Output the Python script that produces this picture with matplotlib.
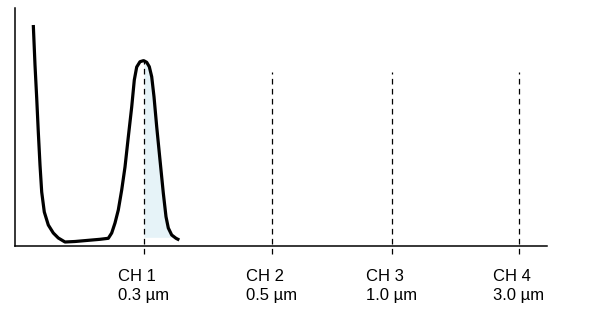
import matplotlib
matplotlib.use("Agg")
import matplotlib.pyplot as plt
import numpy as np

plt.rcParams['font.family'] = ['Liberation Sans', 'DejaVu Sans']

# Curve (size-distribution signal), x = size axis units, y = signal height
curve_x = [33.3, 35, 36.7, 38.3, 40, 41.7, 44.3, 48.3, 53.3, 58.3, 65, 75,
           100, 108.3, 111.7, 115, 118.3, 121.7, 125, 128.3, 131.7, 134.3,
           136.7, 140, 143.3, 144, 146.7, 149.3, 151.7, 154, 156.7, 160,
           163.3, 166, 168.3, 171.7, 176, 179.3]
curve_y = [221, 181, 148, 114, 81, 54, 34, 21, 13, 8, 4, 4.5,
           6.7, 7.7, 13, 23, 36, 56, 79, 109, 139, 166,
           179, 184.3, 185.3, 185.2, 183.7, 179.3, 169.3, 149.3, 119.3, 86,
           53, 29.3, 18, 11, 7.7, 6]

channels = ["CH 1", "CH 2", "CH 3", "CH 4"]
sizes = ["0.3 µm", "0.5 µm", "1.0 µm", "3.0 µm"]
channel_pos = [144, 271.5, 391.5, 519]
channel_top = [185, 174, 174, 174]
shade_start = 144
shade_base = 8.7

W, H = 616, 314
fig = plt.figure(figsize=(W / 100, H / 100), dpi=100)
ax = fig.add_axes([15 / W, (H - 246) / H, (547 - 15) / W, (246 - 8) / H])
ax.set_xlim(15, 547)
ax.set_ylim(0, 238)

cx = np.array(curve_x)
cy = np.array(curve_y)
mask = cx >= shade_start
ax.fill_between(cx[mask], shade_base, cy[mask], color='#e6f3f8', lw=0, zorder=1)

for xp, top in zip(channel_pos, channel_top):
    ax.vlines(xp, -8, top, colors='black', linewidth=0.9,
              linestyles=(0, (4.5, 3.5)), clip_on=False, zorder=2)

ax.plot(cx, cy, color='black', lw=2.3, solid_joinstyle='round',
        solid_capstyle='butt', zorder=3)

for s in ['top', 'right']:
    ax.spines[s].set_visible(False)
for s in ['left', 'bottom']:
    ax.spines[s].set_linewidth(1.1)

ax.set_yticks([])
ax.set_xticks(channel_pos)
ax.set_xticklabels([f"{c}\n{s}" for c, s in zip(channels, sizes)], fontsize=12,
                   linespacing=1.3)
for lbl in ax.get_xticklabels():
    lbl.set_multialignment('left')
ax.tick_params(axis='x', length=0, pad=16.5)

fig.savefig("out.png", dpi=100)
